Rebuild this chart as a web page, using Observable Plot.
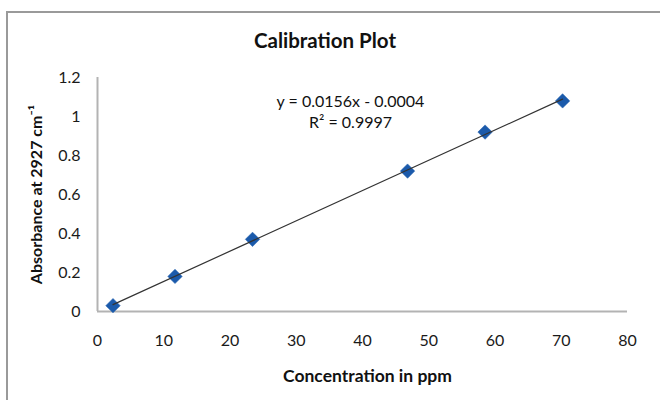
<!DOCTYPE html>
<html>
<head>
<meta charset="utf-8">
<script src="https://cdn.jsdelivr.net/npm/d3@7"></script>
<script src="https://cdn.jsdelivr.net/npm/@observablehq/plot@0.6"></script>
<style>
  html, body { margin: 0; padding: 0; background: #fff; }
  #wrap { position: relative; width: 660px; height: 400px; overflow: hidden; font-family: Lato, "Open Sans", sans-serif; }
  #frame { position: absolute; left: 6px; top: 11px; width: 700px; height: 500px; border-left: 2px solid #9a9a9a; border-top: 2px solid #9a9a9a; }
  #title { position: absolute; left: 0; width: 650px; top: 28px; line-height: 25px; text-align: center; font-weight: bold; font-size: 20.5px; color: #111; }
  #chart { position: absolute; left: 0; top: 0; }
</style>
</head>
<body>
<div id="wrap">
  <div id="frame"></div>
  <div id="chart"></div>
  <div id="title"></div>
</div>
<script>
const titleText = "Calibration Plot";
const xLabel = "Concentration in ppm";
const yLabel = "Absorbance at 2927 cm⁻¹";
const concentration = [2.34, 11.7, 23.4, 46.8, 58.5, 70.2];
const absorbance = [0.03, 0.18, 0.37, 0.72, 0.92, 1.08];
const xTicks = [0, 10, 20, 30, 40, 50, 60, 70, 80];
const yTicks = [0, 0.2, 0.4, 0.6, 0.8, 1, 1.2];
const equationLines = ["y = 0.0156x - 0.0004", "R² = 0.9997"];

document.getElementById("title").textContent = titleText;
const data = concentration.map((c, i) => ({x: c, y: absorbance[i]}));

const chart = Plot.plot({
  width: 660,
  height: 400,
  marginLeft: 97,
  marginRight: 33,
  marginTop: 77,
  marginBottom: 89,
  style: {fontFamily: "Lato, 'Open Sans', sans-serif", fontSize: "16px", color: "#1a1a1a", background: "transparent"},
  x: {domain: [0, 80]},
  y: {domain: [0, 1.2]},
  marks: [
    Plot.axisX({ticks: xTicks, tickSize: 0, tickPadding: 23, fontSize: 16, label: xLabel, labelAnchor: "center", labelOffset: 70, labelArrow: "none"}),
    Plot.axisY({ticks: yTicks, tickSize: 0, tickPadding: 17, fontSize: 16, tickFormat: d3.format("~g"), label: yLabel, labelAnchor: "center", labelOffset: 67, labelArrow: "none"}),
    Plot.ruleX([0], {stroke: "#b3b3b3", strokeWidth: 2}),
    Plot.ruleY([0], {stroke: "#b3b3b3", strokeWidth: 2}),
    Plot.dot(data, {x: "x", y: "y", symbol: "diamond2", r: 6.5, fill: "#1b5aab", stroke: "#1b5aab", strokeWidth: 0.5}),
    Plot.linearRegressionY(data, {x: "x", y: "y", ci: 0, stroke: "#333", strokeWidth: 1.2}),
    Plot.text([equationLines.join("\n")], {frameAnchor: "top", dx: -12, dy: 15, lineHeight: 1.3, lineAnchor: "top", fontSize: 16, fill: "#111"})
  ]
});
chart.querySelectorAll("g[aria-label='x-axis label'] text, g[aria-label='y-axis label'] text").forEach(t => { t.style.fontWeight = "bold"; t.style.fill = "#111"; });
chart.querySelectorAll("g[aria-label='x-axis label'] text").forEach(t => { t.style.fontSize = "17.5px"; });
chart.querySelectorAll("g[aria-label='y-axis label'] text").forEach(t => { t.style.fontSize = "16px"; });
const xl = chart.querySelector("g[aria-label='x-axis label']");
if (xl) xl.setAttribute("transform", ((xl.getAttribute("transform") || "") + " translate(5,0)").trim());
document.getElementById("chart").appendChild(chart);
</script>
</body>
</html>
